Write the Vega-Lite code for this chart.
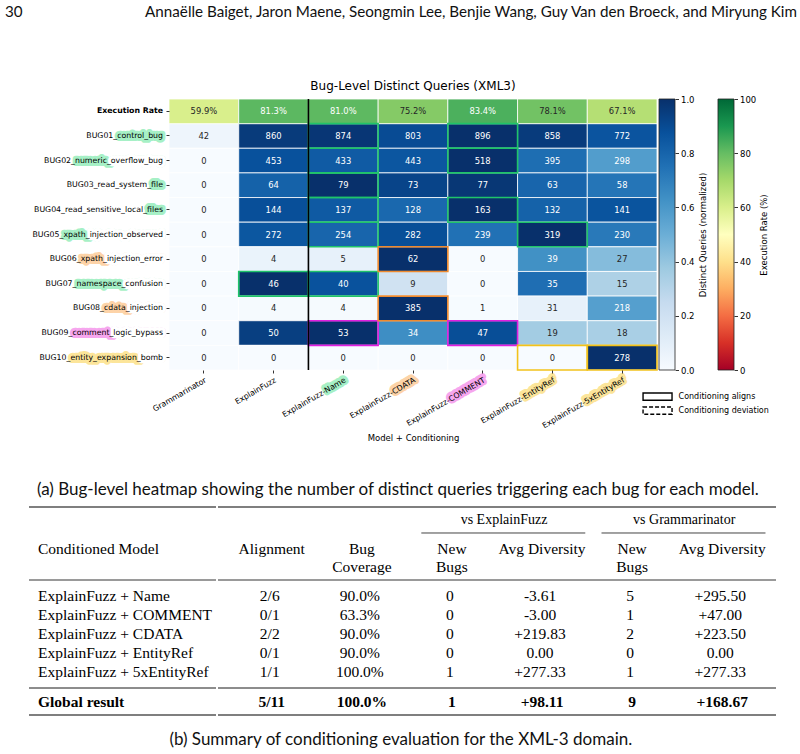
{
  "$schema": "https://vega.github.io/schema/vega-lite/v6.json",
  "background": "white",
  "padding": {"left": 5, "top": 0, "right": 0, "bottom": 0},
  "config": {
    "view": {"stroke": null},
    "font": "DejaVu Sans"
  },
  "datasets": {
    "running": [
      {"slot": "page", "text": "30"},
      {"slot": "authors", "text": "Annaëlle Baiget, Jaron Maene, Seongmin Lee, Benjie Wang, Guy Van den Broeck, and Miryung Kim"}
    ],
    "queries": [
      {"row": "BUG01_control_bug", "model": "Grammarinator", "queries": 42},
      {"row": "BUG01_control_bug", "model": "ExplainFuzz", "queries": 860},
      {"row": "BUG01_control_bug", "model": "ExplainFuzz-Name", "queries": 874},
      {"row": "BUG01_control_bug", "model": "ExplainFuzz-CDATA", "queries": 803},
      {"row": "BUG01_control_bug", "model": "ExplainFuzz-COMMENT", "queries": 896},
      {"row": "BUG01_control_bug", "model": "ExplainFuzz-EntityRef", "queries": 858},
      {"row": "BUG01_control_bug", "model": "ExplainFuzz-5xEntityRef", "queries": 772},
      {"row": "BUG02_numeric_overflow_bug", "model": "Grammarinator", "queries": 0},
      {"row": "BUG02_numeric_overflow_bug", "model": "ExplainFuzz", "queries": 453},
      {"row": "BUG02_numeric_overflow_bug", "model": "ExplainFuzz-Name", "queries": 433},
      {"row": "BUG02_numeric_overflow_bug", "model": "ExplainFuzz-CDATA", "queries": 443},
      {"row": "BUG02_numeric_overflow_bug", "model": "ExplainFuzz-COMMENT", "queries": 518},
      {"row": "BUG02_numeric_overflow_bug", "model": "ExplainFuzz-EntityRef", "queries": 395},
      {"row": "BUG02_numeric_overflow_bug", "model": "ExplainFuzz-5xEntityRef", "queries": 298},
      {"row": "BUG03_read_system_file", "model": "Grammarinator", "queries": 0},
      {"row": "BUG03_read_system_file", "model": "ExplainFuzz", "queries": 64},
      {"row": "BUG03_read_system_file", "model": "ExplainFuzz-Name", "queries": 79},
      {"row": "BUG03_read_system_file", "model": "ExplainFuzz-CDATA", "queries": 73},
      {"row": "BUG03_read_system_file", "model": "ExplainFuzz-COMMENT", "queries": 77},
      {"row": "BUG03_read_system_file", "model": "ExplainFuzz-EntityRef", "queries": 63},
      {"row": "BUG03_read_system_file", "model": "ExplainFuzz-5xEntityRef", "queries": 58},
      {"row": "BUG04_read_sensitive_local_files", "model": "Grammarinator", "queries": 0},
      {"row": "BUG04_read_sensitive_local_files", "model": "ExplainFuzz", "queries": 144},
      {"row": "BUG04_read_sensitive_local_files", "model": "ExplainFuzz-Name", "queries": 137},
      {"row": "BUG04_read_sensitive_local_files", "model": "ExplainFuzz-CDATA", "queries": 128},
      {"row": "BUG04_read_sensitive_local_files", "model": "ExplainFuzz-COMMENT", "queries": 163},
      {"row": "BUG04_read_sensitive_local_files", "model": "ExplainFuzz-EntityRef", "queries": 132},
      {"row": "BUG04_read_sensitive_local_files", "model": "ExplainFuzz-5xEntityRef", "queries": 141},
      {"row": "BUG05_xpath_injection_observed", "model": "Grammarinator", "queries": 0},
      {"row": "BUG05_xpath_injection_observed", "model": "ExplainFuzz", "queries": 272},
      {"row": "BUG05_xpath_injection_observed", "model": "ExplainFuzz-Name", "queries": 254},
      {"row": "BUG05_xpath_injection_observed", "model": "ExplainFuzz-CDATA", "queries": 282},
      {"row": "BUG05_xpath_injection_observed", "model": "ExplainFuzz-COMMENT", "queries": 239},
      {"row": "BUG05_xpath_injection_observed", "model": "ExplainFuzz-EntityRef", "queries": 319},
      {"row": "BUG05_xpath_injection_observed", "model": "ExplainFuzz-5xEntityRef", "queries": 230},
      {"row": "BUG06_xpath_injection_error", "model": "Grammarinator", "queries": 0},
      {"row": "BUG06_xpath_injection_error", "model": "ExplainFuzz", "queries": 4},
      {"row": "BUG06_xpath_injection_error", "model": "ExplainFuzz-Name", "queries": 5},
      {"row": "BUG06_xpath_injection_error", "model": "ExplainFuzz-CDATA", "queries": 62},
      {"row": "BUG06_xpath_injection_error", "model": "ExplainFuzz-COMMENT", "queries": 0},
      {"row": "BUG06_xpath_injection_error", "model": "ExplainFuzz-EntityRef", "queries": 39},
      {"row": "BUG06_xpath_injection_error", "model": "ExplainFuzz-5xEntityRef", "queries": 27},
      {"row": "BUG07_namespace_confusion", "model": "Grammarinator", "queries": 0},
      {"row": "BUG07_namespace_confusion", "model": "ExplainFuzz", "queries": 46},
      {"row": "BUG07_namespace_confusion", "model": "ExplainFuzz-Name", "queries": 40},
      {"row": "BUG07_namespace_confusion", "model": "ExplainFuzz-CDATA", "queries": 9},
      {"row": "BUG07_namespace_confusion", "model": "ExplainFuzz-COMMENT", "queries": 0},
      {"row": "BUG07_namespace_confusion", "model": "ExplainFuzz-EntityRef", "queries": 35},
      {"row": "BUG07_namespace_confusion", "model": "ExplainFuzz-5xEntityRef", "queries": 15},
      {"row": "BUG08_cdata_injection", "model": "Grammarinator", "queries": 0},
      {"row": "BUG08_cdata_injection", "model": "ExplainFuzz", "queries": 4},
      {"row": "BUG08_cdata_injection", "model": "ExplainFuzz-Name", "queries": 4},
      {"row": "BUG08_cdata_injection", "model": "ExplainFuzz-CDATA", "queries": 385},
      {"row": "BUG08_cdata_injection", "model": "ExplainFuzz-COMMENT", "queries": 1},
      {"row": "BUG08_cdata_injection", "model": "ExplainFuzz-EntityRef", "queries": 31},
      {"row": "BUG08_cdata_injection", "model": "ExplainFuzz-5xEntityRef", "queries": 218},
      {"row": "BUG09_comment_logic_bypass", "model": "Grammarinator", "queries": 0},
      {"row": "BUG09_comment_logic_bypass", "model": "ExplainFuzz", "queries": 50},
      {"row": "BUG09_comment_logic_bypass", "model": "ExplainFuzz-Name", "queries": 53},
      {"row": "BUG09_comment_logic_bypass", "model": "ExplainFuzz-CDATA", "queries": 34},
      {"row": "BUG09_comment_logic_bypass", "model": "ExplainFuzz-COMMENT", "queries": 47},
      {"row": "BUG09_comment_logic_bypass", "model": "ExplainFuzz-EntityRef", "queries": 19},
      {"row": "BUG09_comment_logic_bypass", "model": "ExplainFuzz-5xEntityRef", "queries": 18},
      {"row": "BUG10_entity_expansion_bomb", "model": "Grammarinator", "queries": 0},
      {"row": "BUG10_entity_expansion_bomb", "model": "ExplainFuzz", "queries": 0},
      {"row": "BUG10_entity_expansion_bomb", "model": "ExplainFuzz-Name", "queries": 0},
      {"row": "BUG10_entity_expansion_bomb", "model": "ExplainFuzz-CDATA", "queries": 0},
      {"row": "BUG10_entity_expansion_bomb", "model": "ExplainFuzz-COMMENT", "queries": 0},
      {"row": "BUG10_entity_expansion_bomb", "model": "ExplainFuzz-EntityRef", "queries": 0},
      {"row": "BUG10_entity_expansion_bomb", "model": "ExplainFuzz-5xEntityRef", "queries": 278}
    ],
    "rates": [
      {"row": "Execution Rate", "model": "Grammarinator", "rate": 59.9},
      {"row": "Execution Rate", "model": "ExplainFuzz", "rate": 81.3},
      {"row": "Execution Rate", "model": "ExplainFuzz-Name", "rate": 81.0},
      {"row": "Execution Rate", "model": "ExplainFuzz-CDATA", "rate": 75.2},
      {"row": "Execution Rate", "model": "ExplainFuzz-COMMENT", "rate": 83.4},
      {"row": "Execution Rate", "model": "ExplainFuzz-EntityRef", "rate": 78.1},
      {"row": "Execution Rate", "model": "ExplainFuzz-5xEntityRef", "rate": 67.1}
    ],
    "outlines": [
      {"row": "BUG07_namespace_confusion", "model": "ExplainFuzz", "target": "Name", "status": "Conditioning deviation"},
      {"row": "BUG01_control_bug", "model": "ExplainFuzz-Name", "target": "Name", "status": "Conditioning aligns"},
      {"row": "BUG02_numeric_overflow_bug", "model": "ExplainFuzz-Name", "target": "Name", "status": "Conditioning deviation"},
      {"row": "BUG03_read_system_file", "model": "ExplainFuzz-Name", "target": "Name", "status": "Conditioning aligns"},
      {"row": "BUG04_read_sensitive_local_files", "model": "ExplainFuzz-Name", "target": "Name", "status": "Conditioning deviation"},
      {"row": "BUG05_xpath_injection_observed", "model": "ExplainFuzz-Name", "target": "Name", "status": "Conditioning deviation"},
      {"row": "BUG07_namespace_confusion", "model": "ExplainFuzz-Name", "target": "Name", "status": "Conditioning deviation"},
      {"row": "BUG09_comment_logic_bypass", "model": "ExplainFuzz-Name", "target": "COMMENT", "status": "Conditioning deviation"},
      {"row": "BUG06_xpath_injection_error", "model": "ExplainFuzz-CDATA", "target": "CDATA", "status": "Conditioning aligns"},
      {"row": "BUG08_cdata_injection", "model": "ExplainFuzz-CDATA", "target": "CDATA", "status": "Conditioning aligns"},
      {"row": "BUG01_control_bug", "model": "ExplainFuzz-COMMENT", "target": "Name", "status": "Conditioning deviation"},
      {"row": "BUG02_numeric_overflow_bug", "model": "ExplainFuzz-COMMENT", "target": "Name", "status": "Conditioning deviation"},
      {"row": "BUG04_read_sensitive_local_files", "model": "ExplainFuzz-COMMENT", "target": "Name", "status": "Conditioning deviation"},
      {"row": "BUG09_comment_logic_bypass", "model": "ExplainFuzz-COMMENT", "target": "COMMENT", "status": "Conditioning deviation"},
      {"row": "BUG05_xpath_injection_observed", "model": "ExplainFuzz-EntityRef", "target": "Name", "status": "Conditioning deviation"},
      {"row": "BUG10_entity_expansion_bomb", "model": "ExplainFuzz-EntityRef", "target": "EntityRef", "status": "Conditioning deviation"},
      {"row": "BUG10_entity_expansion_bomb", "model": "ExplainFuzz-5xEntityRef", "target": "EntityRef", "status": "Conditioning aligns"}
    ],
    "outlineKey": [
      {"status": "Conditioning aligns"},
      {"status": "Conditioning deviation"}
    ],
    "rowLabels": [
      {"row": "Execution Rate", "mark": "", "rest": "", "target": "none"},
      {"row": "BUG01_control_bug", "mark": "control_bug", "rest": "", "target": "Name"},
      {"row": "BUG02_numeric_overflow_bug", "mark": "numeric_", "rest": "overflow_bug", "target": "Name"},
      {"row": "BUG03_read_system_file", "mark": "file", "rest": "", "target": "Name"},
      {"row": "BUG04_read_sensitive_local_files", "mark": "files", "rest": "", "target": "Name"},
      {"row": "BUG05_xpath_injection_observed", "mark": "xpath_", "rest": "injection_observed", "target": "Name"},
      {"row": "BUG06_xpath_injection_error", "mark": "xpath_", "rest": "injection_error", "target": "CDATA"},
      {"row": "BUG07_namespace_confusion", "mark": "namespace_", "rest": "confusion", "target": "Name"},
      {"row": "BUG08_cdata_injection", "mark": "cdata_", "rest": "injection", "target": "CDATA"},
      {"row": "BUG09_comment_logic_bypass", "mark": "comment_", "rest": "logic_bypass", "target": "COMMENT"},
      {"row": "BUG10_entity_expansion_bomb", "mark": "entity_expansion_", "rest": "bomb", "target": "EntityRef"}
    ],
    "modelTags": [
      {"model": "ExplainFuzz-Name", "mark": "Name", "target": "Name"},
      {"model": "ExplainFuzz-CDATA", "mark": "CDATA", "target": "CDATA"},
      {"model": "ExplainFuzz-COMMENT", "mark": "COMMENT", "target": "COMMENT"},
      {"model": "ExplainFuzz-EntityRef", "mark": "EntityRef", "target": "EntityRef"},
      {"model": "ExplainFuzz-5xEntityRef", "mark": "5xEntityRef", "target": "EntityRef"}
    ],
    "colorbars": [
      {"bar": "Distinct Queries (normalized)"},
      {"bar": "Execution Rate (%)"}
    ],
    "headings": [
      {"column": "Conditioned Model", "label": ["Conditioned Model"]},
      {"column": "Alignment", "label": ["Alignment"]},
      {"column": "Bug Coverage", "label": ["Bug", "Coverage"]},
      {"column": "EF New Bugs", "label": ["New", "Bugs"]},
      {"column": "EF Avg Diversity", "label": ["Avg Diversity"]},
      {"column": "G New Bugs", "label": ["New", "Bugs"]},
      {"column": "G Avg Diversity", "label": ["Avg Diversity"]}
    ],
    "groups": [
      {"group": "vs ExplainFuzz", "first": "EF New Bugs", "last": "EF Avg Diversity"},
      {"group": "vs Grammarinator", "first": "G New Bugs", "last": "G Avg Diversity"}
    ],
    "summary": [
      {"part": "body", "model": "ExplainFuzz + Name", "column": "Alignment", "value": "2/6"},
      {"part": "body", "model": "ExplainFuzz + Name", "column": "Bug Coverage", "value": "90.0%"},
      {"part": "body", "model": "ExplainFuzz + Name", "column": "EF New Bugs", "value": "0"},
      {"part": "body", "model": "ExplainFuzz + Name", "column": "EF Avg Diversity", "value": "-3.61"},
      {"part": "body", "model": "ExplainFuzz + Name", "column": "G New Bugs", "value": "5"},
      {"part": "body", "model": "ExplainFuzz + Name", "column": "G Avg Diversity", "value": "+295.50"},
      {"part": "body", "model": "ExplainFuzz + COMMENT", "column": "Alignment", "value": "0/1"},
      {"part": "body", "model": "ExplainFuzz + COMMENT", "column": "Bug Coverage", "value": "63.3%"},
      {"part": "body", "model": "ExplainFuzz + COMMENT", "column": "EF New Bugs", "value": "0"},
      {"part": "body", "model": "ExplainFuzz + COMMENT", "column": "EF Avg Diversity", "value": "-3.00"},
      {"part": "body", "model": "ExplainFuzz + COMMENT", "column": "G New Bugs", "value": "1"},
      {"part": "body", "model": "ExplainFuzz + COMMENT", "column": "G Avg Diversity", "value": "+47.00"},
      {"part": "body", "model": "ExplainFuzz + CDATA", "column": "Alignment", "value": "2/2"},
      {"part": "body", "model": "ExplainFuzz + CDATA", "column": "Bug Coverage", "value": "90.0%"},
      {"part": "body", "model": "ExplainFuzz + CDATA", "column": "EF New Bugs", "value": "0"},
      {"part": "body", "model": "ExplainFuzz + CDATA", "column": "EF Avg Diversity", "value": "+219.83"},
      {"part": "body", "model": "ExplainFuzz + CDATA", "column": "G New Bugs", "value": "2"},
      {"part": "body", "model": "ExplainFuzz + CDATA", "column": "G Avg Diversity", "value": "+223.50"},
      {"part": "body", "model": "ExplainFuzz + EntityRef", "column": "Alignment", "value": "0/1"},
      {"part": "body", "model": "ExplainFuzz + EntityRef", "column": "Bug Coverage", "value": "90.0%"},
      {"part": "body", "model": "ExplainFuzz + EntityRef", "column": "EF New Bugs", "value": "0"},
      {"part": "body", "model": "ExplainFuzz + EntityRef", "column": "EF Avg Diversity", "value": "0.00"},
      {"part": "body", "model": "ExplainFuzz + EntityRef", "column": "G New Bugs", "value": "0"},
      {"part": "body", "model": "ExplainFuzz + EntityRef", "column": "G Avg Diversity", "value": "0.00"},
      {"part": "body", "model": "ExplainFuzz + 5xEntityRef", "column": "Alignment", "value": "1/1"},
      {"part": "body", "model": "ExplainFuzz + 5xEntityRef", "column": "Bug Coverage", "value": "100.0%"},
      {"part": "body", "model": "ExplainFuzz + 5xEntityRef", "column": "EF New Bugs", "value": "1"},
      {"part": "body", "model": "ExplainFuzz + 5xEntityRef", "column": "EF Avg Diversity", "value": "+277.33"},
      {"part": "body", "model": "ExplainFuzz + 5xEntityRef", "column": "G New Bugs", "value": "1"},
      {"part": "body", "model": "ExplainFuzz + 5xEntityRef", "column": "G Avg Diversity", "value": "+277.33"},
      {"part": "total", "model": "Global result", "column": "Alignment", "value": "5/11"},
      {"part": "total", "model": "Global result", "column": "Bug Coverage", "value": "100.0%"},
      {"part": "total", "model": "Global result", "column": "EF New Bugs", "value": "1"},
      {"part": "total", "model": "Global result", "column": "EF Avg Diversity", "value": "+98.11"},
      {"part": "total", "model": "Global result", "column": "G New Bugs", "value": "9"},
      {"part": "total", "model": "Global result", "column": "G Avg Diversity", "value": "+168.67"}
    ],
    "tableRules": [
      {"rule": "toprule", "column": "Conditioned Model"},
      {"rule": "midrule", "column": "Conditioned Model"},
      {"rule": "totalrule", "column": "Conditioned Model"},
      {"rule": "bottomrule", "column": "Conditioned Model"}
    ]
  },
  "spacing": 8,
  "vconcat": [
    {
      "spacing": 56,
      "vconcat": [
        {
          "width": 792,
          "height": 24,
          "data": {"name": "running"},
          "layer": [
            {
              "transform": [{"filter": "datum.slot == 'page'"}],
              "mark": {"type": "text", "align": "left", "baseline": "middle", "font": "Lato", "fontSize": 15.2, "color": "#111"},
              "encoding": {
                "x": {"datum": "page", "type": "nominal", "bandPosition": 0, "scale": {"type": "band", "domain": ["page", "authors"], "paddingInner": 0, "paddingOuter": 0}, "axis": null},
                "text": {"field": "text"}
              }
            },
            {
              "transform": [{"filter": "datum.slot == 'authors'"}],
              "mark": {"type": "text", "align": "right", "baseline": "middle", "font": "Lato", "fontSize": 15.2, "color": "#111"},
              "encoding": {
                "x": {"datum": "authors", "type": "nominal", "bandPosition": 1, "scale": {"type": "band", "domain": ["page", "authors"], "paddingInner": 0, "paddingOuter": 0}, "axis": null},
                "text": {"field": "text"}
              }
            }
          ]
        },
        {
          "bounds": "flush",
          "spacing": 2,
          "title": {"text": "(a) Bug-level heatmap showing the number of distinct queries triggering each bug for each model.", "orient": "bottom", "anchor": "middle", "font": "Lato", "fontSize": 17, "fontWeight": "normal", "color": "#111", "offset": 40, "dx": 11},
          "hconcat": [
            {
              "width": 162,
              "height": 271,
              "data": {"name": "rowLabels"},
              "layer": [
                {
                  "transform": [{"filter": "datum.mark != ''"}, {"calculate": "datum.mark + datum.rest", "as": "tail"}],
                  "mark": {"type": "text", "align": "right", "baseline": "middle", "font": "DejaVu Sans", "fontSize": 7.8, "dx": -4, "fillOpacity": 0, "strokeWidth": 6, "strokeJoin": "round"},
                  "encoding": {
                    "x": {"datum": "row label", "type": "nominal", "bandPosition": 1, "scale": {"type": "band", "domain": ["row label"], "paddingInner": 0, "paddingOuter": 0}, "axis": null},
                    "y": {"field": "row", "type": "nominal", "scale": {"type": "band", "domain": ["Execution Rate", "BUG01_control_bug", "BUG02_numeric_overflow_bug", "BUG03_read_system_file", "BUG04_read_sensitive_local_files", "BUG05_xpath_injection_observed", "BUG06_xpath_injection_error", "BUG07_namespace_confusion", "BUG08_cdata_injection", "BUG09_comment_logic_bypass", "BUG10_entity_expansion_bomb"], "paddingInner": 0, "paddingOuter": 0}, "axis": null},
                    "text": {"field": "tail"},
                    "stroke": {"field": "target", "type": "nominal", "scale": {"domain": ["Name", "CDATA", "COMMENT", "EntityRef"], "range": ["#a6f0c6", "#fdd3a8", "#f6a6ee", "#fce59a"]}, "legend": null}
                  }
                },
                {
                  "transform": [{"filter": "datum.rest != ''"}],
                  "mark": {"type": "text", "align": "right", "baseline": "middle", "font": "DejaVu Sans", "fontSize": 7.8, "dx": -4, "fillOpacity": 0, "stroke": "white", "strokeWidth": 6.5, "strokeJoin": "round"},
                  "encoding": {
                    "x": {"datum": "row label", "type": "nominal", "bandPosition": 1},
                    "y": {"field": "row", "type": "nominal"},
                    "text": {"field": "rest"}
                  }
                },
                {
                  "transform": [{"filter": "datum.row != 'Execution Rate'"}],
                  "mark": {"type": "text", "align": "right", "baseline": "middle", "font": "DejaVu Sans", "fontSize": 7.8, "dx": -4, "color": "#000"},
                  "encoding": {
                    "x": {"datum": "row label", "type": "nominal", "bandPosition": 1},
                    "y": {"field": "row", "type": "nominal"},
                    "text": {"field": "row"}
                  }
                },
                {
                  "transform": [{"filter": "datum.row == 'Execution Rate'"}],
                  "mark": {"type": "text", "align": "right", "baseline": "middle", "font": "DejaVu Sans", "fontSize": 7.8, "fontWeight": "bold", "dx": -4, "color": "#000"},
                  "encoding": {
                    "x": {"datum": "row label", "type": "nominal", "bandPosition": 1},
                    "y": {"field": "row", "type": "nominal"},
                    "text": {"field": "row"}
                  }
                }
              ]
            },
            {
              "width": 488,
              "height": 271,
              "title": {"text": "Bug-Level Distinct Queries (XML3)", "font": "DejaVu Sans", "fontSize": 12, "fontWeight": "normal", "color": "#000", "offset": 5, "anchor": "middle", "frame": "group"},
              "resolve": {"scale": {"stroke": "independent"}},
              "layer": [
                {
                  "data": {"name": "modelTags"},
                  "mark": {"type": "text", "align": "right", "baseline": "top", "angle": -30, "font": "DejaVu Sans", "fontSize": 7.8, "dx": -3, "dy": 5.2, "fillOpacity": 0, "strokeWidth": 6, "strokeJoin": "round"},
                  "encoding": {
                    "x": {"field": "model", "type": "nominal"},
                    "y": {"datum": "BUG10_entity_expansion_bomb", "type": "nominal", "bandPosition": 1},
                    "text": {"field": "mark"},
                    "stroke": {"field": "target", "type": "nominal", "scale": {"domain": ["Name", "CDATA", "COMMENT", "EntityRef"], "range": ["#a6f0c6", "#fdd3a8", "#f6a6ee", "#fce59a"]}, "legend": null}
                  }
                },
                {
                  "data": {"name": "queries"},
                  "transform": [
                    {"joinaggregate": [{"op": "max", "field": "queries", "as": "rowMax"}], "groupby": ["row"]},
                    {"calculate": "datum.rowMax > 0 ? datum.queries / datum.rowMax : 0", "as": "share"}
                  ],
                  "layer": [
                    {
                      "mark": {"type": "rect", "stroke": "white", "strokeWidth": 0.8},
                      "encoding": {
                        "x": {
                          "field": "model", "type": "nominal",
                          "scale": {"type": "band", "domain": ["Grammarinator", "ExplainFuzz", "ExplainFuzz-Name", "ExplainFuzz-CDATA", "ExplainFuzz-COMMENT", "ExplainFuzz-EntityRef", "ExplainFuzz-5xEntityRef"], "paddingInner": 0, "paddingOuter": 0},
                          "axis": {"title": "Model + Conditioning", "titleFont": "DejaVu Sans", "titleFontSize": 8.5, "titleFontWeight": "normal", "titleColor": "#000", "titlePadding": 4, "labelAngle": -30, "labelAlign": "right", "labelBaseline": "top", "labelFont": "DejaVu Sans", "labelFontSize": 7.8, "labelColor": "#000", "tickSize": 3, "tickColor": "#000", "tickWidth": 0.8, "labelPadding": 3, "domain": false, "grid": false, "zindex": 1}
                        },
                        "y": {
                          "field": "row", "type": "nominal",
                          "scale": {"type": "band", "domain": ["Execution Rate", "BUG01_control_bug", "BUG02_numeric_overflow_bug", "BUG03_read_system_file", "BUG04_read_sensitive_local_files", "BUG05_xpath_injection_observed", "BUG06_xpath_injection_error", "BUG07_namespace_confusion", "BUG08_cdata_injection", "BUG09_comment_logic_bypass", "BUG10_entity_expansion_bomb"], "paddingInner": 0, "paddingOuter": 0},
                          "axis": {"title": null, "labels": false, "tickSize": 3, "tickColor": "#000", "tickWidth": 0.8, "domain": false, "grid": false, "zindex": 1}
                        },
                        "color": {"field": "share", "type": "quantitative", "scale": {"domain": [0, 0.125, 0.25, 0.375, 0.5, 0.625, 0.75, 0.875, 1], "range": ["#f7fbff", "#deebf7", "#c6dbef", "#9ecae1", "#6baed6", "#4292c6", "#2171b5", "#08519c", "#08306b"], "interpolate": "rgb"}, "legend": null}
                      }
                    },
                    {
                      "mark": {"type": "text", "font": "DejaVu Sans", "fontSize": 8.4},
                      "encoding": {
                        "x": {"field": "model", "type": "nominal"},
                        "y": {"field": "row", "type": "nominal"},
                        "text": {"field": "queries", "type": "quantitative"},
                        "color": {"condition": {"test": "datum.share > 0.5", "value": "white"}, "value": "#262626"}
                      }
                    }
                  ]
                },
                {
                  "data": {"name": "rates"},
                  "transform": [{"calculate": "format(datum.rate, '.1f') + '%'", "as": "rateLabel"}],
                  "layer": [
                    {
                      "mark": {"type": "rect", "stroke": "white", "strokeWidth": 0.8},
                      "encoding": {
                        "x": {"field": "model", "type": "nominal"},
                        "y": {"field": "row", "type": "nominal"},
                        "fill": {"field": "rate", "type": "quantitative", "scale": {"domain": [0, 10, 20, 30, 40, 50, 60, 70, 80, 90, 100], "range": ["#a50026", "#d73027", "#f46d43", "#fdae61", "#fee08b", "#ffffbf", "#d9ef8b", "#a6d96a", "#66bd63", "#1a9850", "#006837"], "interpolate": "rgb"}, "legend": null}
                      }
                    },
                    {
                      "mark": {"type": "text", "font": "DejaVu Sans", "fontSize": 8.4},
                      "encoding": {
                        "x": {"field": "model", "type": "nominal"},
                        "y": {"field": "row", "type": "nominal"},
                        "text": {"field": "rateLabel"},
                        "color": {"condition": {"test": "datum.rate > 80", "value": "white"}, "value": "#262626"}
                      }
                    }
                  ]
                },
                {
                  "data": {"name": "outlines"},
                  "mark": {"type": "rect", "fill": "transparent", "strokeWidth": 1.6},
                  "encoding": {
                    "x": {"field": "model", "type": "nominal"},
                    "y": {"field": "row", "type": "nominal"},
                    "stroke": {"field": "target", "type": "nominal", "scale": {"domain": ["Name", "CDATA", "COMMENT", "EntityRef"], "range": ["#1fc46a", "#ef8a2e", "#e01ee0", "#f2c21b"]}, "legend": null},
                    "strokeDash": {"field": "status", "type": "nominal", "scale": {"domain": ["Conditioning aligns", "Conditioning deviation"], "range": [[1, 0], [2, 2]]}, "legend": null}
                  }
                },
                {
                  "data": {"values": [{"model": "ExplainFuzz-Name", "note": "first conditioned model"}]},
                  "mark": {"type": "rule", "color": "#000", "strokeWidth": 1.6},
                  "encoding": {
                    "x": {"field": "model", "type": "nominal", "bandPosition": 0}
                  }
                },
                {
                  "data": {"name": "outlineKey"},
                  "transform": [{"filter": "datum.status == 'Conditioning aligns'"}],
                  "layer": [
                    {
                      "mark": {"type": "point", "shape": "M-2,-0.5H2V0.5H-2Z", "size": 210, "fill": "white", "filled": true, "opacity": 1, "stroke": "#000", "strokeWidth": 1.4, "xOffset": 35.4, "yOffset": 39},
                      "encoding": {
                        "x": {"datum": "ExplainFuzz-5xEntityRef", "type": "nominal"},
                        "y": {"datum": "BUG10_entity_expansion_bomb", "type": "nominal"},
                        "strokeDash": {"field": "status", "type": "nominal", "legend": null}
                      }
                    },
                    {
                      "mark": {"type": "text", "align": "left", "baseline": "middle", "font": "DejaVu Sans", "fontSize": 8, "color": "#000", "dx": 56.4, "dy": 39},
                      "encoding": {
                        "x": {"datum": "ExplainFuzz-5xEntityRef", "type": "nominal"},
                        "y": {"datum": "BUG10_entity_expansion_bomb", "type": "nominal"},
                        "text": {"field": "status"}
                      }
                    }
                  ]
                },
                {
                  "data": {"name": "outlineKey"},
                  "transform": [{"filter": "datum.status == 'Conditioning deviation'"}],
                  "layer": [
                    {
                      "mark": {"type": "point", "shape": "M-2,-0.5H2V0.5H-2Z", "size": 210, "fill": "white", "filled": true, "opacity": 1, "stroke": "#000", "strokeWidth": 1.4, "xOffset": 35.4, "yOffset": 53},
                      "encoding": {
                        "x": {"datum": "ExplainFuzz-5xEntityRef", "type": "nominal"},
                        "y": {"datum": "BUG10_entity_expansion_bomb", "type": "nominal"},
                        "strokeDash": {"field": "status", "type": "nominal", "legend": null}
                      }
                    },
                    {
                      "mark": {"type": "text", "align": "left", "baseline": "middle", "font": "DejaVu Sans", "fontSize": 8, "color": "#000", "dx": 56.4, "dy": 53},
                      "encoding": {
                        "x": {"datum": "ExplainFuzz-5xEntityRef", "type": "nominal"},
                        "y": {"datum": "BUG10_entity_expansion_bomb", "type": "nominal"},
                        "text": {"field": "status"}
                      }
                    }
                  ]
                }
              ]
            },
            {
              "width": 75,
              "height": 271,
              "data": {"name": "colorbars"},
              "resolve": {"scale": {"y": "independent"}, "axis": {"y": "independent"}},
              "layer": [
                {
                  "transform": [{"filter": "datum.bar == 'Distinct Queries (normalized)'"}],
                  "mark": {"type": "rect", "stroke": "#222", "strokeWidth": 0.8, "fill": {"gradient": "linear", "x1": 0, "y1": 1, "x2": 0, "y2": 0, "stops": [
                    {"offset": 0, "color": "#f7fbff"}, {"offset": 0.125, "color": "#deebf7"}, {"offset": 0.25, "color": "#c6dbef"}, {"offset": 0.375, "color": "#9ecae1"}, {"offset": 0.5, "color": "#6baed6"}, {"offset": 0.625, "color": "#4292c6"}, {"offset": 0.75, "color": "#2171b5"}, {"offset": 0.875, "color": "#08519c"}, {"offset": 1, "color": "#08306b"}]}},
                  "encoding": {
                    "x": {"field": "bar", "type": "nominal", "scale": {"type": "band", "domain": ["Distinct Queries (normalized)", "Execution Rate (%)"], "paddingInner": 0.7288, "paddingOuter": 0}, "axis": null},
                    "y": {"datum": 0, "type": "quantitative", "scale": {"domain": [0, 1], "nice": false}, "axis": {"orient": "right", "offset": -59, "values": [0, 0.2, 0.4, 0.6, 0.8, 1], "format": ".1f", "title": "Distinct Queries (normalized)", "titleAngle": 270, "titleBaseline": "top", "titlePadding": 4, "titleFont": "DejaVu Sans", "titleFontSize": 8.5, "titleFontWeight": "normal", "titleColor": "#000", "labelFont": "DejaVu Sans", "labelFontSize": 8.5, "labelColor": "#000", "labelPadding": 2, "labelFlush": false, "labelOverlap": false, "tickSize": 3.5, "tickColor": "#000", "tickWidth": 0.8, "domain": false, "grid": false}},
                    "y2": {"datum": 1}
                  }
                },
                {
                  "transform": [{"filter": "datum.bar == 'Execution Rate (%)'"}],
                  "mark": {"type": "rect", "stroke": "#222", "strokeWidth": 0.8, "fill": {"gradient": "linear", "x1": 0, "y1": 1, "x2": 0, "y2": 0, "stops": [
                    {"offset": 0, "color": "#a50026"}, {"offset": 0.1, "color": "#d73027"}, {"offset": 0.2, "color": "#f46d43"}, {"offset": 0.3, "color": "#fdae61"}, {"offset": 0.4, "color": "#fee08b"}, {"offset": 0.5, "color": "#ffffbf"}, {"offset": 0.6, "color": "#d9ef8b"}, {"offset": 0.7, "color": "#a6d96a"}, {"offset": 0.8, "color": "#66bd63"}, {"offset": 0.9, "color": "#1a9850"}, {"offset": 1, "color": "#006837"}]}},
                  "encoding": {
                    "x": {"field": "bar", "type": "nominal", "scale": {"type": "band", "domain": ["Distinct Queries (normalized)", "Execution Rate (%)"], "paddingInner": 0.7288, "paddingOuter": 0}, "axis": null},
                    "y": {"datum": 0, "type": "quantitative", "scale": {"domain": [0, 100], "nice": false}, "axis": {"orient": "right", "offset": 0, "values": [0, 20, 40, 60, 80, 100], "format": "d", "title": "Execution Rate (%)", "titleAngle": 270, "titleBaseline": "top", "titlePadding": 4, "titleFont": "DejaVu Sans", "titleFontSize": 8.5, "titleFontWeight": "normal", "titleColor": "#000", "labelFont": "DejaVu Sans", "labelFontSize": 8.5, "labelColor": "#000", "labelPadding": 2, "labelFlush": false, "labelOverlap": false, "tickSize": 3.5, "tickColor": "#000", "tickWidth": 0.8, "domain": false, "grid": false}},
                    "y2": {"datum": 100}
                  }
                }
              ]
            }
          ]
        }
      ]
    },
    {
      "spacing": 0,
      "title": {"text": "(b) Summary of conditioning evaluation for the XML-3 domain.", "orient": "bottom", "anchor": "middle", "font": "Lato", "fontSize": 17, "fontWeight": "normal", "color": "#111", "offset": 16, "dx": 10},
      "vconcat": [
        {
          "spacing": 0,
          "hconcat": [
            {
              "width": 211,
              "height": 73,
              "layer": [
                {
                  "data": {"name": "headings"},
                  "transform": [{"filter": "datum.column == 'Conditioned Model'"}],
                  "mark": {"type": "text", "align": "left", "baseline": "middle", "font": "Liberation Serif", "fontSize": 15.5, "lineHeight": 18, "dx": 9, "color": "#000"},
                  "encoding": {
                    "x": {"datum": "Conditioned Model", "type": "nominal", "bandPosition": 0, "scale": {"type": "band", "domain": ["Conditioned Model"], "paddingInner": 0, "paddingOuter": 0.0642, "align": 1}, "axis": null},
                    "y": {"datum": "columns", "type": "nominal", "bandPosition": 0.151, "scale": {"type": "band", "domain": ["groups", "columns"], "paddingInner": 0, "paddingOuter": 0}, "axis": null},
                    "text": {"field": "label"}
                  }
                },
                {
                  "data": {"name": "tableRules"},
                  "transform": [{"filter": "datum.rule == 'toprule'"}],
                  "mark": {"type": "rule", "color": "#000", "strokeWidth": 1.2},
                  "encoding": {
                    "x": {"field": "column", "type": "nominal", "bandPosition": 0},
                    "x2": {"field": "column", "bandPosition": 1},
                    "y": {"datum": "groups", "type": "nominal", "bandPosition": 0}
                  }
                },
                {
                  "data": {"name": "tableRules"},
                  "transform": [{"filter": "datum.rule == 'midrule'"}],
                  "mark": {"type": "rule", "color": "#000", "strokeWidth": 0.8},
                  "encoding": {
                    "x": {"field": "column", "type": "nominal", "bandPosition": 0},
                    "x2": {"field": "column", "bandPosition": 1},
                    "y": {"datum": "columns", "type": "nominal", "bandPosition": 1}
                  }
                }
              ]
            },
            {
              "width": 558,
              "height": 73,
              "layer": [
                {
                  "data": {"name": "headings"},
                  "transform": [{"filter": "datum.column != 'Conditioned Model'"}],
                  "mark": {"type": "text", "align": "center", "baseline": "middle", "font": "Liberation Serif", "fontSize": 15.5, "lineHeight": 18, "color": "#000"},
                  "encoding": {
                    "x": {"field": "column", "type": "nominal", "scale": {"type": "band", "domain": ["Alignment", "Bug Coverage", "EF New Bugs", "EF Avg Diversity", "G New Bugs", "G Avg Diversity"], "paddingInner": 0, "paddingOuter": 0.0966}, "axis": null},
                    "y": {"datum": "columns", "type": "nominal", "bandPosition": 0.151, "scale": {"type": "band", "domain": ["groups", "columns"], "paddingInner": 0, "paddingOuter": 0}, "axis": null},
                    "text": {"field": "label"}
                  }
                },
                {
                  "data": {"name": "groups"},
                  "transform": [{"filter": "datum.group == 'vs ExplainFuzz'"}],
                  "mark": {"type": "text", "align": "center", "baseline": "middle", "font": "Liberation Serif", "fontSize": 14, "dx": 7, "color": "#000"},
                  "encoding": {
                    "x": {"datum": "EF New Bugs", "type": "nominal", "bandPosition": 1},
                    "y": {"datum": "groups", "type": "nominal", "bandPosition": 0.356},
                    "text": {"field": "group"}
                  }
                },
                {
                  "data": {"name": "groups"},
                  "transform": [{"filter": "datum.group == 'vs Grammarinator'"}],
                  "mark": {"type": "text", "align": "center", "baseline": "middle", "font": "Liberation Serif", "fontSize": 14, "dx": 7, "color": "#000"},
                  "encoding": {
                    "x": {"datum": "G New Bugs", "type": "nominal", "bandPosition": 1},
                    "y": {"datum": "groups", "type": "nominal", "bandPosition": 0.356},
                    "text": {"field": "group"}
                  }
                },
                {
                  "data": {"name": "groups"},
                  "mark": {"type": "rule", "color": "#444", "strokeWidth": 1},
                  "encoding": {
                    "x": {"field": "first", "type": "nominal", "bandPosition": 0.16},
                    "x2": {"field": "last", "bandPosition": 0.98},
                    "y": {"datum": "groups", "type": "nominal", "bandPosition": 0.712}
                  }
                },
                {
                  "data": {"values": [{"rule": "toprule"}]},
                  "mark": {"type": "rule", "color": "#000", "strokeWidth": 1.2},
                  "encoding": {"y": {"datum": "groups", "type": "nominal", "bandPosition": 0}}
                },
                {
                  "data": {"values": [{"rule": "midrule"}]},
                  "mark": {"type": "rule", "color": "#000", "strokeWidth": 0.8},
                  "encoding": {"y": {"datum": "columns", "type": "nominal", "bandPosition": 1}}
                }
              ]
            }
          ]
        },
        {
          "spacing": 0,
          "hconcat": [
            {
              "width": 211,
              "height": 106,
              "data": {"name": "summary"},
              "transform": [{"filter": "datum.part == 'body' && datum.column == 'Alignment'"}],
              "mark": {"type": "text", "align": "left", "baseline": "middle", "font": "Liberation Serif", "fontSize": 15.5, "dx": 9, "color": "#000"},
              "encoding": {
                "x": {"datum": "Conditioned Model", "type": "nominal", "bandPosition": 0, "scale": {"type": "band", "domain": ["Conditioned Model"], "paddingInner": 0, "paddingOuter": 0.0642, "align": 1}, "axis": null},
                "y": {"field": "model", "type": "nominal", "sort": null, "scale": {"type": "band", "paddingInner": 0, "paddingOuter": 0.289}, "axis": null},
                "text": {"field": "model"}
              }
            },
            {
              "width": 558,
              "height": 106,
              "data": {"name": "summary"},
              "transform": [{"filter": "datum.part == 'body'"}],
              "mark": {"type": "text", "align": "center", "baseline": "middle", "font": "Liberation Serif", "fontSize": 15.5, "color": "#000"},
              "encoding": {
                "x": {"field": "column", "type": "nominal", "scale": {"type": "band", "domain": ["Alignment", "Bug Coverage", "EF New Bugs", "EF Avg Diversity", "G New Bugs", "G Avg Diversity"], "paddingInner": 0, "paddingOuter": 0.0966}, "axis": null},
                "y": {"field": "model", "type": "nominal", "sort": null, "scale": {"type": "band", "paddingInner": 0, "paddingOuter": 0.289}, "axis": null},
                "text": {"field": "value"}
              }
            }
          ]
        },
        {
          "spacing": 0,
          "hconcat": [
            {
              "width": 211,
              "height": 27,
              "layer": [
                {
                  "data": {"name": "summary"},
                  "transform": [{"filter": "datum.part == 'total' && datum.column == 'Alignment'"}],
                  "mark": {"type": "text", "align": "left", "baseline": "middle", "font": "Liberation Serif", "fontSize": 15.5, "fontWeight": "bold", "dx": 9, "color": "#000"},
                  "encoding": {
                    "x": {"datum": "Conditioned Model", "type": "nominal", "bandPosition": 0, "scale": {"type": "band", "domain": ["Conditioned Model"], "paddingInner": 0, "paddingOuter": 0.0642, "align": 1}, "axis": null},
                    "y": {"field": "model", "type": "nominal", "scale": {"type": "band", "domain": ["Global result"], "paddingInner": 0, "paddingOuter": 0}, "axis": null},
                    "text": {"field": "model"}
                  }
                },
                {
                  "data": {"name": "tableRules"},
                  "transform": [{"filter": "datum.rule == 'totalrule'"}],
                  "mark": {"type": "rule", "color": "#000", "strokeWidth": 0.9},
                  "encoding": {
                    "x": {"field": "column", "type": "nominal", "bandPosition": 0},
                    "x2": {"field": "column", "bandPosition": 1},
                    "y": {"datum": "Global result", "type": "nominal", "bandPosition": 0}
                  }
                },
                {
                  "data": {"name": "tableRules"},
                  "transform": [{"filter": "datum.rule == 'bottomrule'"}],
                  "mark": {"type": "rule", "color": "#000", "strokeWidth": 1.2},
                  "encoding": {
                    "x": {"field": "column", "type": "nominal", "bandPosition": 0},
                    "x2": {"field": "column", "bandPosition": 1},
                    "y": {"datum": "Global result", "type": "nominal", "bandPosition": 1}
                  }
                }
              ]
            },
            {
              "width": 558,
              "height": 27,
              "layer": [
                {
                  "data": {"name": "summary"},
                  "transform": [{"filter": "datum.part == 'total'"}],
                  "mark": {"type": "text", "align": "center", "baseline": "middle", "font": "Liberation Serif", "fontSize": 15.5, "fontWeight": "bold", "color": "#000"},
                  "encoding": {
                    "x": {"field": "column", "type": "nominal", "scale": {"type": "band", "domain": ["Alignment", "Bug Coverage", "EF New Bugs", "EF Avg Diversity", "G New Bugs", "G Avg Diversity"], "paddingInner": 0, "paddingOuter": 0.0966}, "axis": null},
                    "y": {"field": "model", "type": "nominal", "scale": {"type": "band", "domain": ["Global result"], "paddingInner": 0, "paddingOuter": 0}, "axis": null},
                    "text": {"field": "value"}
                  }
                },
                {
                  "data": {"values": [{"model": "Global result", "rule": "totalrule"}]},
                  "mark": {"type": "rule", "color": "#000", "strokeWidth": 0.9},
                  "encoding": {"y": {"datum": "Global result", "type": "nominal", "bandPosition": 0}}
                },
                {
                  "data": {"values": [{"model": "Global result", "rule": "bottomrule"}]},
                  "mark": {"type": "rule", "color": "#000", "strokeWidth": 1.2},
                  "encoding": {"y": {"datum": "Global result", "type": "nominal", "bandPosition": 1}}
                }
              ]
            }
          ]
        }
      ]
    }
  ]
}
